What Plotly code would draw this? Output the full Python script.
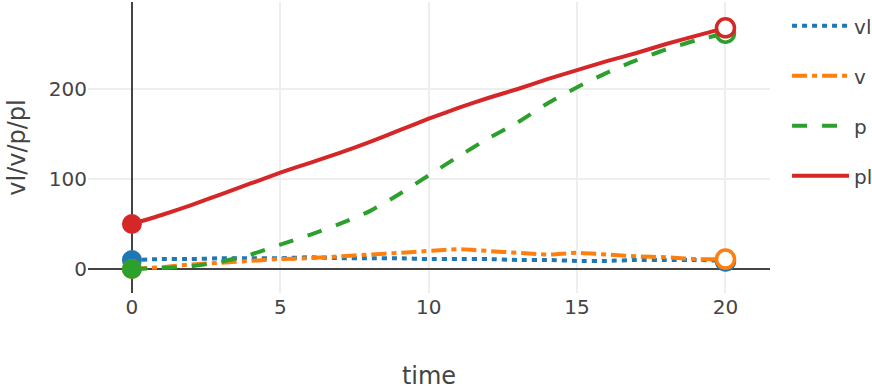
import plotly.graph_objects as go

time = list(range(0, 21))
vl = [10, 11, 11, 12, 12, 12, 13, 12, 12, 12, 11, 11, 11, 10, 10, 9, 9, 10, 10, 10, 9]
v = [0, 2, 5, 7, 9, 11, 12, 14, 16, 18, 20, 22, 20, 18, 16, 18, 16, 14, 13, 11, 11]
p = [0, 1, 3, 8, 16, 27, 38, 50, 64, 83, 104, 125, 145, 163, 184, 202, 218, 232, 244, 254, 262]
pl = [50, 60, 71, 83, 95, 107, 118, 129, 141, 154, 167, 179, 190, 200, 211, 221, 231, 240, 250, 259, 268]

names = ["vl", "v", "p", "pl"]
series = [vl, v, p, pl]
colors = ["#1f77b4", "#ff7f0e", "#2ca02c", "#d62728"]
dashes = ["5px,5px", "15px,5px,5px,5px", "15px,15px", "solid"]

fig = go.Figure()
for name, ys, c, d in zip(names, series, colors, dashes):
    fig.add_trace(go.Scatter(x=time, y=ys, mode="lines", name=name, legendgroup=name,
                             line=dict(color=c, width=4, dash=d, shape="spline", smoothing=0.6)))
for name, ys, c in zip(names, series, colors):
    fig.add_trace(go.Scatter(x=[time[0]], y=[ys[0]], mode="markers", legendgroup=name,
                             showlegend=False, marker=dict(color=c, size=20, symbol="circle")))
    fig.add_trace(go.Scatter(x=[time[-1]], y=[ys[-1]], mode="markers", legendgroup=name,
                             showlegend=False,
                             marker=dict(color="white", size=18, symbol="circle",
                                         line=dict(color=c, width=3.5))))

axis_common = dict(gridcolor="#eeeeee", gridwidth=2, zeroline=True, zerolinecolor="#444444",
                   zerolinewidth=2, showline=False, ticks="", automargin=False,
                   tickfont=dict(size=20, color="#444444"))
fig.update_layout(
    width=872, height=390,
    margin=dict(l=88, r=102, t=2, b=97, autoexpand=False),
    paper_bgcolor="white", plot_bgcolor="white",
    font=dict(family="DejaVu Sans, Verdana, sans-serif", size=20, color="#444444"),
    showlegend=True,
    legend=dict(tracegroupgap=21, font=dict(size=20), itemwidth=57, y=0.985, x=1.025),
    xaxis=dict(title=dict(text="time", font=dict(size=24), standoff=49), range=[-1.48, 21.5],
               tickvals=[0, 5, 10, 15, 20], **axis_common),
    yaxis=dict(title=dict(text="vl/v/p/pl", font=dict(size=24), standoff=16), range=[-26.7, 296.7],
               tickvals=[0, 100, 200], **axis_common),
)
fig.write_html("out.html", config={"displayModeBar": False},
               post_script="document.body.style.margin='0px';")
